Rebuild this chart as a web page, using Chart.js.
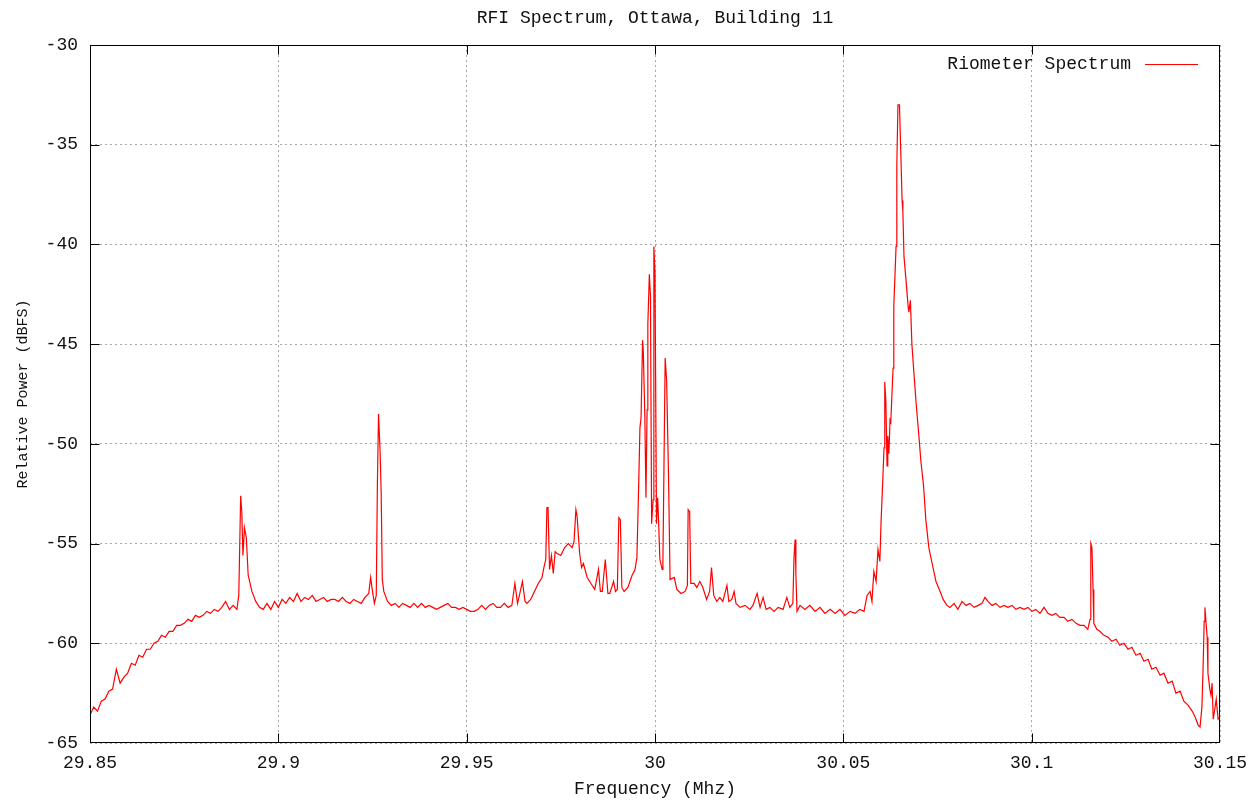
<!DOCTYPE html>
<html>
<head>
<meta charset="utf-8">
<title>RFI Spectrum, Ottawa, Building 11</title>
<script src="https://cdn.jsdelivr.net/npm/chart.js@4.4.1/dist/chart.umd.min.js"></script>
<style>
	html, body { margin: 0; padding: 0; background: #fff; }
	#wrap { width: 1260px; height: 800px; }
</style>
</head>
<body>
<div id="wrap"><canvas id="chart" width="1260" height="800"></canvas></div>
<script>

/*
 * Spectrum samples.
 *
 */
const freqMHz = [
	29.850, 29.851, 29.852, 29.853, 29.854, 29.855, 29.856, 29.857, 29.858, 29.859,
	29.860, 29.861, 29.862, 29.863, 29.864, 29.865, 29.866, 29.867, 29.868, 29.869,
	29.870, 29.871, 29.872, 29.873, 29.874, 29.875, 29.876, 29.877, 29.878, 29.879,
	29.880, 29.881, 29.882, 29.883, 29.884, 29.885, 29.886, 29.887, 29.888, 29.889,
	29.8895, 29.8900, 29.8903, 29.8906, 29.8910, 29.8915, 29.8920, 29.8930, 29.8940, 29.8950,
	29.896, 29.897, 29.898, 29.899, 29.900, 29.901, 29.902, 29.903, 29.904, 29.905,
	29.906, 29.907, 29.908, 29.909, 29.910, 29.911, 29.912, 29.913, 29.914, 29.915,
	29.916, 29.917, 29.918, 29.919, 29.920, 29.921, 29.922, 29.923, 29.924, 29.9245,
	29.9250, 29.9255, 29.9260, 29.9263, 29.9266, 29.9270, 29.9273, 29.9276, 29.9280, 29.9290,
	29.930, 29.931, 29.932, 29.933, 29.934, 29.935, 29.936, 29.937, 29.938, 29.939,
	29.940, 29.941, 29.942, 29.943, 29.944, 29.945, 29.946, 29.947, 29.948, 29.949,
	29.950, 29.951, 29.952, 29.953, 29.954, 29.955, 29.956, 29.957, 29.958, 29.959,
	29.960, 29.961, 29.962, 29.9628, 29.9635, 29.964, 29.9648, 29.9655, 29.966, 29.967,
	29.968, 29.969, 29.970, 29.9705, 29.9710, 29.9713, 29.9716, 29.9720, 29.9725, 29.9730,
	29.9735, 29.974, 29.975, 29.976, 29.977, 29.978, 29.9785, 29.9790, 29.9793, 29.9800,
	29.9805, 29.981, 29.982, 29.983, 29.984, 29.9850, 29.9855, 29.9860, 29.9868, 29.9875,
	29.9880, 29.9890, 29.9895, 29.9900, 29.9904, 29.9908, 29.9912, 29.9918, 29.9928, 29.9939,
	29.9947, 29.9952, 29.9957, 29.9960, 29.9963, 29.9967, 29.9969, 29.9973, 29.9976, 29.9979,
	29.9981, 29.9985, 29.9988, 29.9991, 29.9995, 29.9997, 30.0000, 30.0004, 30.0007, 30.0009,
	30.0013, 30.0019, 30.0021, 30.0027, 30.0031, 30.0036, 30.0040, 30.0051, 30.0058, 30.0069,
	30.0080, 30.0086, 30.0088, 30.0092, 30.0095, 30.0104, 30.0111, 30.0119, 30.0127, 30.0137,
	30.0145, 30.0150, 30.0156, 30.0164, 30.0172, 30.0180, 30.0191, 30.0196, 30.0204, 30.0210,
	30.0215, 30.0226, 30.0239, 30.0252, 30.0260, 30.0271, 30.0279, 30.0287, 30.0295, 30.0305,
	30.0316, 30.0327, 30.0340, 30.0350, 30.0358, 30.0366, 30.0369, 30.0372, 30.0374, 30.0377,
	30.0385, 30.0398, 30.0411, 30.0425, 30.0438, 30.0451, 30.0465, 30.0478, 30.0491, 30.0504,
	30.0518, 30.0531, 30.0544, 30.0555, 30.0563, 30.0571, 30.0576, 30.0581, 30.0587, 30.0592,
	30.0597, 30.0600, 30.0605, 30.0608, 30.0610, 30.0613, 30.0616, 30.0618, 30.0621, 30.0624,
	30.0626, 30.0632, 30.0634, 30.0640, 30.0642, 30.0645, 30.0649, 30.0653, 30.0656, 30.0658,
	30.0661, 30.0666, 30.0672, 30.0674, 30.0678, 30.0682, 30.0688, 30.0693, 30.0701, 30.0706,
	30.0713, 30.0719, 30.0727, 30.0738, 30.0746, 30.0757, 30.0765, 30.0775, 30.0783, 30.0794,
	30.0804, 30.0815, 30.0826, 30.0836, 30.0847, 30.0858, 30.0868, 30.0876, 30.0884, 30.0895,
	30.0905, 30.0916, 30.0927, 30.0937, 30.0948, 30.0958, 30.0969, 30.0980, 30.0990, 30.1001,
	30.1011, 30.1022, 30.1033, 30.1043, 30.1054, 30.1064, 30.1075, 30.1086, 30.1096, 30.1107,
	30.1118, 30.1128, 30.1139, 30.1149, 30.1155, 30.1157, 30.1160, 30.1163, 30.1165, 30.1173,
	30.1181, 30.1192, 30.1203, 30.1213, 30.1224, 30.1234, 30.1245, 30.1256, 30.1266, 30.1277,
	30.1288, 30.1298, 30.1309, 30.1319, 30.1330, 30.1341, 30.1351, 30.1362, 30.1373, 30.1383,
	30.1394, 30.1404, 30.1415, 30.1426, 30.1434, 30.1442, 30.1447, 30.1452, 30.1455, 30.1458,
	30.1460, 30.1463, 30.1466, 30.1468, 30.1473, 30.1476, 30.1479, 30.1482, 30.1487, 30.1490,
	30.1495, 30.1500
];

const powerDbfs = [
	-63.6, -63.2, -63.4, -62.9, -62.8, -62.4, -62.3, -61.3, -62.0, -61.7,
	-61.5, -61.0, -61.1, -60.6, -60.7, -60.3, -60.3, -60.0, -59.9, -59.6,
	-59.7, -59.4, -59.4, -59.1, -59.1, -59.0, -58.8, -58.9, -58.6, -58.7,
	-58.6, -58.4, -58.5, -58.3, -58.4, -58.2, -57.9, -58.3, -58.1, -58.3,
	-57.6, -52.6, -53.4, -55.6, -54.2, -54.7, -56.6, -57.4, -57.9, -58.2,
	-58.3, -58.0, -58.3, -57.9, -58.2, -57.8, -58.0, -57.7, -57.9, -57.5,
	-57.9, -57.7, -57.8, -57.6, -57.9, -57.8, -57.7, -57.9, -57.8, -57.8,
	-57.9, -57.7, -57.9, -58.0, -57.8, -57.9, -58.0, -57.7, -57.5, -56.7,
	-57.4, -58.0, -57.6, -52.0, -48.5, -50.3, -52.4, -56.8, -57.4, -57.9,
	-58.1, -58.0, -58.2, -58.0, -58.1, -58.2, -58.0, -58.2, -58.0, -58.2,
	-58.1, -58.2, -58.3, -58.2, -58.1, -58.0, -58.2, -58.2, -58.3, -58.2,
	-58.3, -58.4, -58.4, -58.3, -58.1, -58.3, -58.1, -58.0, -58.2, -58.2,
	-58.0, -58.2, -58.1, -57.0, -58.0, -57.6, -56.9, -57.9, -58.0, -57.8,
	-57.4, -57.0, -56.7, -56.2, -55.8, -53.2, -53.2, -56.3, -55.6, -56.5,
	-55.4, -55.5, -55.6, -55.2, -55.0, -55.2, -54.9, -53.3, -53.6, -55.5,
	-56.2, -56.0, -56.7, -57.0, -57.3, -56.3, -57.4, -57.4, -55.8, -57.5,
	-57.5, -56.9, -57.4, -57.3, -53.7, -53.8, -57.2, -57.4, -57.2, -56.6,
	-56.3, -55.7, -51.8, -49.2, -48.7, -44.8, -45.4, -48.6, -52.7, -48.3,
	-44.0, -41.5, -42.6, -54.0, -52.8, -40.1, -41.5, -54.0, -52.7, -53.6,
	-55.8, -56.3, -55.9, -45.7, -46.9, -51.7, -56.8, -56.7, -57.3, -57.5,
	-57.4, -57.1, -53.3, -53.4, -57.0, -57.0, -57.2, -56.9, -57.2, -57.8,
	-57.4, -56.2, -57.6, -57.9, -57.7, -57.9, -57.1, -57.9, -57.8, -57.4,
	-58.0, -58.2, -58.1, -58.3, -58.1, -57.5, -58.2, -57.7, -58.3, -58.2,
	-58.4, -58.2, -58.3, -57.7, -58.2, -58.0, -55.7, -54.8, -56.5, -58.4,
	-58.1, -58.3, -58.1, -58.4, -58.2, -58.5, -58.3, -58.5, -58.3, -58.6,
	-58.4, -58.5, -58.3, -58.4, -57.6, -57.4, -57.9, -56.4, -56.9, -55.3,
	-55.9, -54.0, -51.7, -50.2, -46.9, -47.9, -51.1, -49.6, -50.5, -48.8,
	-48.9, -46.2, -43.1, -40.1, -36.0, -33.0, -33.0, -35.7, -37.8, -38.3,
	-40.6, -41.7, -43.1, -43.4, -42.8, -45.0, -46.6, -47.9, -49.7, -50.9,
	-52.1, -53.8, -55.2, -56.2, -56.9, -57.4, -57.8, -58.1, -58.2, -58.0,
	-58.3, -57.9, -58.1, -58.0, -58.2, -58.1, -58.0, -57.7, -57.9, -58.1,
	-58.0, -58.2, -58.1, -58.2, -58.1, -58.3, -58.2, -58.3, -58.2, -58.4,
	-58.3, -58.5, -58.2, -58.5, -58.6, -58.5, -58.7, -58.7, -58.9, -58.8,
	-59.0, -59.1, -59.1, -59.3, -58.8, -55.0, -55.2, -57.3, -59.0, -59.3,
	-59.4, -59.6, -59.7, -59.9, -59.8, -60.1, -60.0, -60.3, -60.2, -60.6,
	-60.5, -60.9, -60.8, -61.3, -61.2, -61.6, -61.5, -62.0, -61.9, -62.5,
	-62.4, -62.9, -63.1, -63.4, -63.7, -64.1, -64.2, -63.2, -61.3, -58.9,
	-58.2, -59.0, -59.7, -61.5, -62.3, -62.6, -62.0, -63.8, -63.2, -62.8,
	-63.8, -63.7
];

/*
 * Axis ticks.
 *
 */
const freqTicks = [ 29.85, 29.9, 29.95, 30, 30.05, 30.1, 30.15 ];
const powerTicks = [ -65, -60, -55, -50, -45, -40, -35, -30 ];

const chartTitle = "RFI Spectrum, Ottawa, Building 11";
const seriesLabel = "Riometer Spectrum";

const FONT = "'Liberation Mono', 'DejaVu Sans Mono', monospace";

Chart.defaults.font.family = FONT;
Chart.defaults.font.size = 18;
Chart.defaults.color = "#111";

/*
 * Gnuplot style frame: box, inward ticks on all sides,
 * title on top and the key in the upper right corner.
 */
const gnuplotFrame = {
	id: "gnuplotFrame",
	afterDraw: function( chart )
	{
		const { ctx, chartArea: a, scales } = chart;
		const len = 9;
		const L = Math.round( a.left ) + 0.5;
		const R = Math.round( a.right ) - 0.5;
		const T = Math.round( a.top ) + 0.5;
		const B = Math.round( a.bottom ) - 0.5;
		const clampX = px => Math.min( R, Math.max( L, Math.round( px ) + 0.5 ) );
		const clampY = py => Math.min( B, Math.max( T, Math.round( py ) + 0.5 ) );

		ctx.save();
		ctx.strokeStyle = "#000";
		ctx.lineWidth = 1;
		ctx.strokeRect( L, T, R - L, B - T );

		// Tick marks pointing in.
		ctx.beginPath();
		scales.x.ticks.forEach( t =>
		{
			const px = clampX( scales.x.getPixelForValue( t.value ) );
			ctx.moveTo( px, B );
			ctx.lineTo( px, B - len );
			ctx.moveTo( px, T );
			ctx.lineTo( px, T + len );
		});
		scales.y.ticks.forEach( t =>
		{
			const py = clampY( scales.y.getPixelForValue( t.value ) );
			ctx.moveTo( L, py );
			ctx.lineTo( L + len, py );
			ctx.moveTo( R, py );
			ctx.lineTo( R - len, py );
		});
		ctx.stroke();

		// Title.
		ctx.fillStyle = "#111";
		ctx.font = "18px " + FONT;
		ctx.textAlign = "center";
		ctx.textBaseline = "middle";
		ctx.fillText( chartTitle, ( a.left + a.right ) / 2, 18 );

		// Key.
		const ds = chart.data.datasets[0];
		ctx.textAlign = "right";
		ctx.fillText( ds.label, a.right - 89, a.top + 19 );
		ctx.strokeStyle = ds.borderColor;
		ctx.beginPath();
		ctx.moveTo( a.right - 75, a.top + 19.5 );
		ctx.lineTo( a.right - 22, a.top + 19.5 );
		ctx.stroke();
		ctx.restore();
	}
};

const gridStyle = {
	color: "#a8a8a8",
	lineWidth: 1,
	drawTicks: false,
	borderDash: [ 2, 3 ]
};

new Chart( document.getElementById( "chart" ), {
	type: "line",
	data: {
		datasets: [{
			label: seriesLabel,
			data: freqMHz.map( ( f, i ) => ({ x: f, y: powerDbfs[i] }) ),
			borderColor: "#ff0000",
			borderWidth: 1.2,
			pointRadius: 0,
			tension: 0,
			fill: false
		}]
	},
	options: {
		responsive: false,
		animation: false,
		layout: {
			padding: { top: 45, right: 40, bottom: 0, left: 0 }
		},
		plugins: {
			legend: { display: false },
			title: { display: false },
			tooltip: { enabled: false }
		},
		scales: {
			x: {
				type: "linear",
				min: freqTicks[0],
				max: freqTicks[freqTicks.length - 1],
				afterBuildTicks: scale => { scale.ticks = freqTicks.map( v => ({ value: v }) ); },
				afterFit: scale => { scale.height = 57; },
				grid: gridStyle,
				border: { display: false, dash: [ 2, 3 ] },
				ticks: {
					padding: 9,
					maxRotation: 0,
					autoSkip: false,
					callback: v => String( Number( v.toFixed( 2 ) ) )
				},
				title: {
					display: true,
					text: "Frequency (Mhz)",
					font: { size: 18 },
					padding: { top: 0, bottom: 0 }
				}
			},
			y: {
				min: powerTicks[0],
				max: powerTicks[powerTicks.length - 1],
				afterBuildTicks: scale => { scale.ticks = powerTicks.map( v => ({ value: v }) ); },
				afterFit: scale => { scale.width = 90; },
				grid: gridStyle,
				border: { display: false, dash: [ 2, 3 ] },
				ticks: {
					padding: 12,
					autoSkip: false,
					callback: v => String( v )
				},
				title: {
					display: true,
					text: "Relative Power (dBFS)",
					font: { size: 15 },
					padding: { top: 14, bottom: 0 }
				}
			}
		}
	},
	plugins: [ gnuplotFrame ]
});
</script>
</body>
</html>
